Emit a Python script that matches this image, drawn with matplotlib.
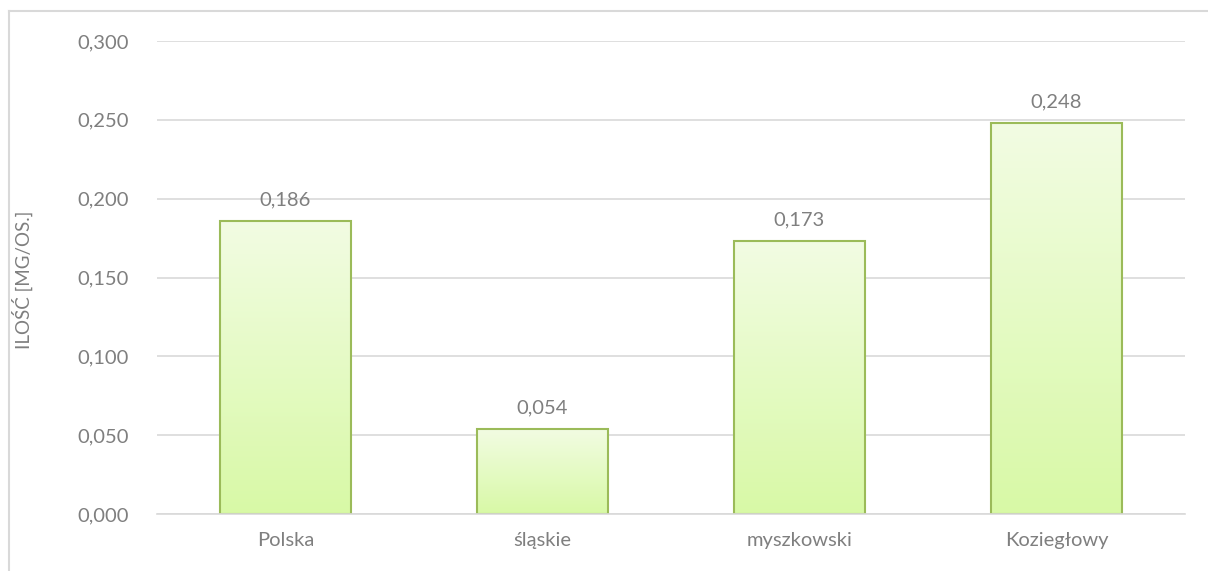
import matplotlib
matplotlib.use("Agg")
import matplotlib.pyplot as plt
import numpy as np
from matplotlib.colors import LinearSegmentedColormap
from matplotlib.lines import Line2D

categories = ["Polska", "śląskie", "myszkowski", "Koziegłowy"]
values = [0.186, 0.054, 0.173, 0.248]
value_labels = ["0,186", "0,054", "0,173", "0,248"]
yticks = [0.0, 0.05, 0.10, 0.15, 0.20, 0.25, 0.30]
ytick_labels = ["0,000", "0,050", "0,100", "0,150", "0,200", "0,250", "0,300"]
ylabel = "ILOŚĆ [MG/OS.]"

plt.rcParams['font.family'] = ['Lato', 'DejaVu Sans']
grey = "#7f7f7f"
gridc = "#d9d9d9"

fig = plt.figure(figsize=(12.08, 5.71), dpi=100)
ax = fig.add_axes([157/1208, 1-514/571, (1185-157)/1208, (514-41)/571])

x = np.arange(len(categories))
bars = ax.bar(x, values, width=0.51, facecolor="none", edgecolor="#9bbb59",
              linewidth=1.5, zorder=3)

cmap = LinearSegmentedColormap.from_list("g", ["#d8f9a6", "#f2fce3"])
grad = np.linspace(0, 1, 256).reshape(-1, 1)
for b in bars:
    x0 = b.get_x()
    w, h = b.get_width(), b.get_height()
    im = ax.imshow(grad, extent=[x0, x0 + w, 0, h],
                   origin="lower", aspect="auto", cmap=cmap, zorder=2)
    im.set_clip_path(b)

for xi, v, lab in zip(x, values, value_labels):
    ax.annotate(lab, (xi, v), xytext=(0, 9), textcoords="offset points",
                ha="center", va="bottom", color=grey, fontsize=14.5)

ax.set_xlim(-0.5, len(categories) - 0.5)
ax.set_ylim(0, 0.3)
ax.set_yticks(yticks)
ax.set_yticklabels(ytick_labels)
ax.set_xticks(x)
ax.set_xticklabels(categories)
ax.tick_params(axis="both", length=0, colors=grey, labelsize=14.5)
ax.tick_params(axis="y", pad=20)
ax.tick_params(axis="x", pad=13)
ax.grid(axis="y", color=gridc, linewidth=1.2, zorder=0)
ax.set_axisbelow(True)
for s in ["top", "right", "left"]:
    ax.spines[s].set_visible(False)
ax.spines["bottom"].set_color(gridc)
ax.spines["bottom"].set_linewidth(1.2)
ax.spines["bottom"].set_zorder(4)

fig.text(22/1208, 1-280/571, ylabel, rotation=90, ha="center", va="center",
         color=grey, fontsize=13.5)

# outer chart frame
fig.add_artist(Line2D([9/1208, 9/1208], [0, 1-11/571], color=gridc, linewidth=1.5,
                      transform=fig.transFigure))
fig.add_artist(Line2D([9/1208, 1], [1-11/571, 1-11/571], color=gridc, linewidth=1.5,
                      transform=fig.transFigure))

fig.savefig("out.png", dpi=100)
